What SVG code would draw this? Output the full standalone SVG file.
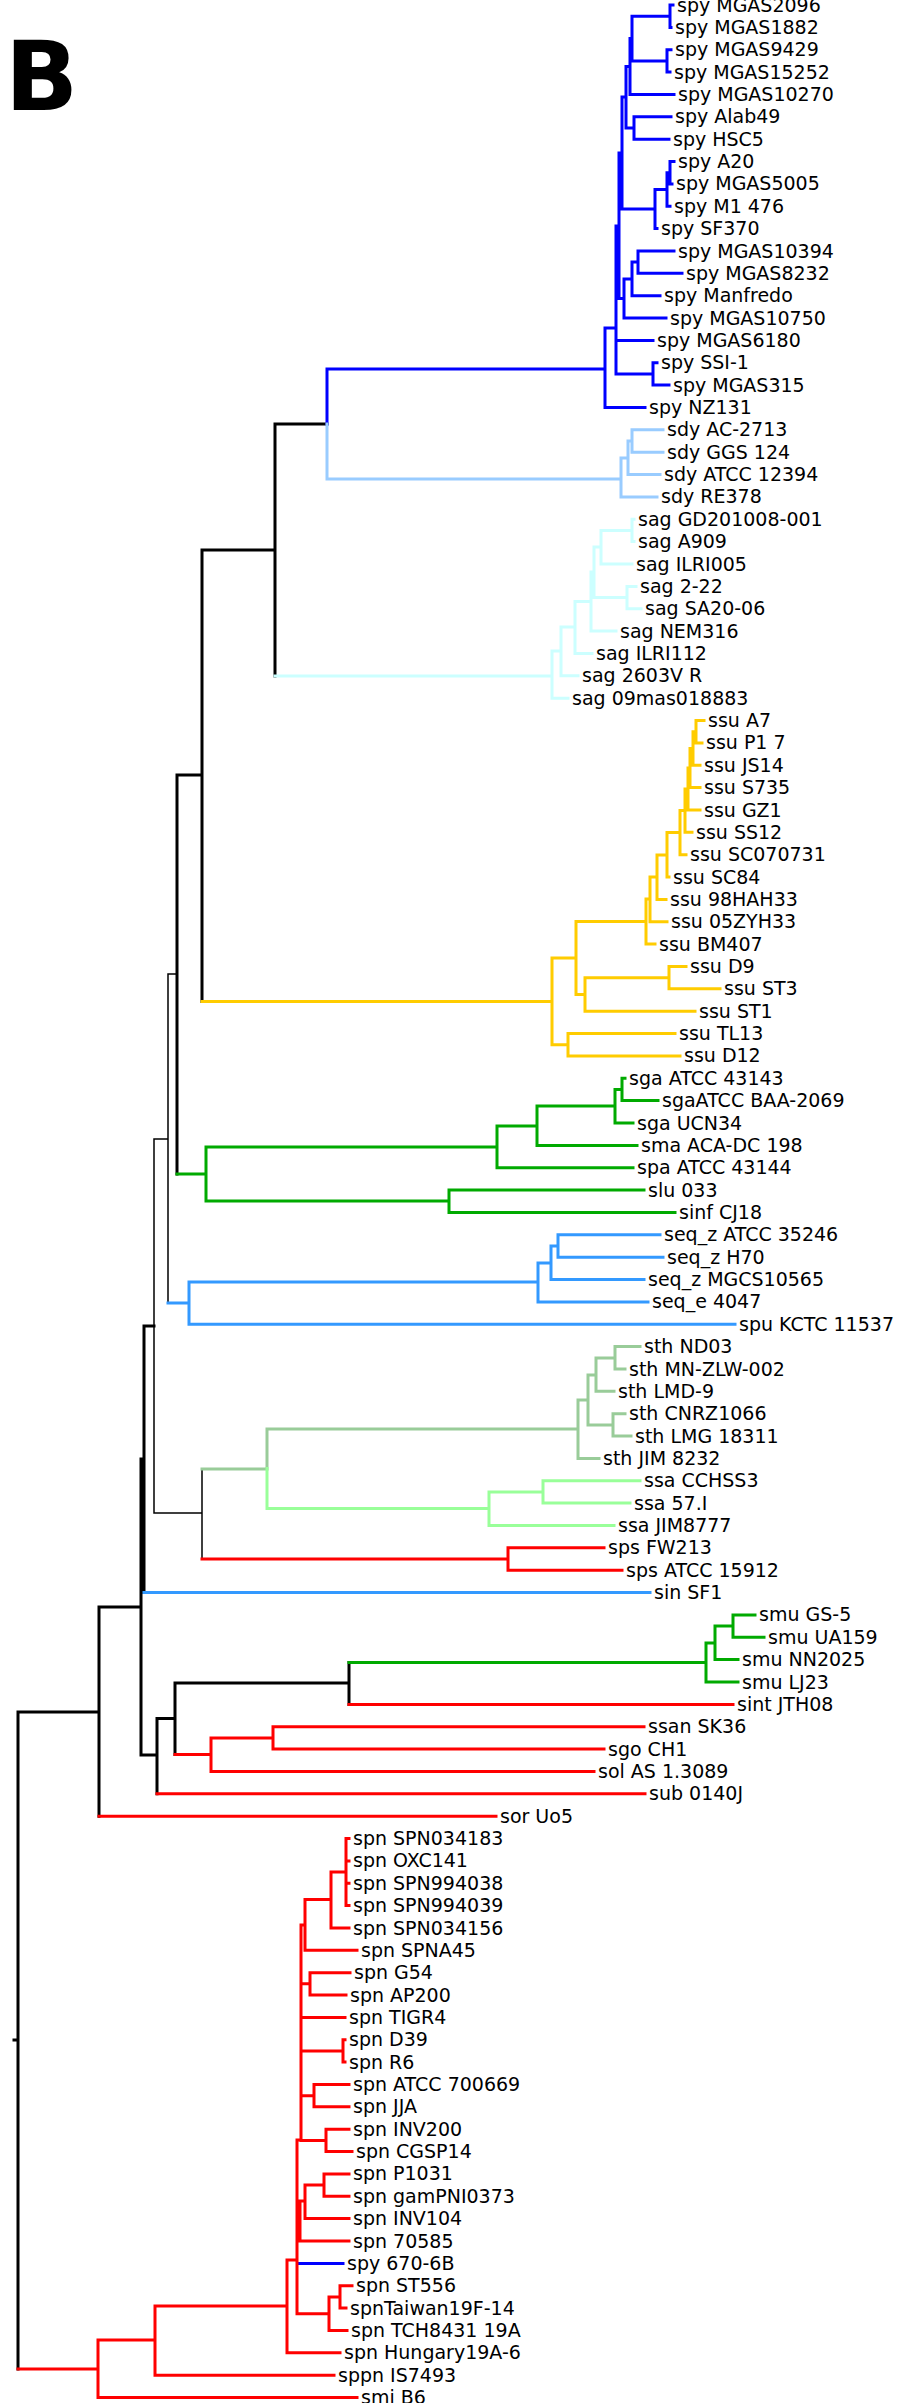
<svg xmlns="http://www.w3.org/2000/svg" width="906" height="2403" viewBox="0 0 906 2403">
<style>
.e{fill:none;stroke-width:3;stroke-linecap:square;stroke-linejoin:miter}
.k{stroke:#000}
.kt{stroke:#000;stroke-width:1.5}
.b{stroke:#0000ff}
.lb{stroke:#99ccff}
.c{stroke:#ccffff}
.y{stroke:#ffcc00}
.g{stroke:#00aa00}
.sb{stroke:#3399ff}
.pg{stroke:#99cc99}
.lg{stroke:#99ff99}
.r{stroke:#ff0000}
text{font-family:"DejaVu Sans","Liberation Sans",sans-serif;font-size:19px;fill:#000}
.big{font-family:"DejaVu Sans",sans-serif;font-weight:bold;font-size:96px}
</style>
<rect width="906" height="2403" fill="#fff"/>
<g id="title"><text class="big" x="5" y="110">B</text></g>
<g id="connectors">
<path class="e k" d="M275 424H327M275 424V676M202 550H275M202 550V1001.4M177 775H202M177 775V1174M144 1326H154M144 1326V1592.6M141 1459H144M141 1459V1755M141 1755H157M157 1718.5V1793.8M157 1718.5H175M175 1683V1754.5M175 1683H349M349 1662.5V1704.4M99 1607H141M99 1607V1816.2M18 1712H99M18 1712V2369M14 2040H18"/>
<path class="e kt" d="M168 974H177M168 974V1303M154 1139H168M154 1139V1513M154 1513H202M202 1469V1559"/>
<path class="e b" d="M670 5V27.4M670 5H673M670 27.4H671M667 49.7V72.1M667 49.7H671M667 72.1H670M632 16.2V60.9M632 16.2H670M632 60.9H667M630 38.6V94.4M630 38.6H632M630 94.4H674M634 116.8V139.2M634 116.8H671M634 139.2H669M626 66.5V128M626 66.5H630M626 128H634M670 161.5V183.9M670 161.5H674M670 183.9H672M667 172.7V206.2M667 172.7H670M667 206.2H670M655 189.5V228.6M655 189.5H667M655 228.6H657M622 97V209M622 97H626M622 209H655M638 251V273.3M638 251H674M638 273.3H682M632 262V295.7M632 262H638M632 295.7H660M624 279V318M624 279H632M624 318H666M619 153V298.5M619 153H622M619 298.5H624M653 362.8V385.1M653 362.8H657M653 385.1H669M616 226V374M616 226H619M616 340.4H653M616 374H653M605 328V407.5M605 328H616M605 407.5H645M327 369H605M327 369V424M298 2263.4H343"/>
<path class="e lb" d="M327 424V479M327 479H621M621 458V496.9M621 458H628M621 496.9H657M628 441V474.6M628 441H632M628 474.6H660M632 429.8V452.2M632 429.8H663M632 452.2H663"/>
<path class="e c" d="M275 676H552M552 651V698.2M552 651H561M552 698.2H568M561 627V675.8M561 627H575M561 675.8H578M575 601.5V653.4M575 601.5H591M575 653.4H592M591 572V631.1M591 572H594M591 631.1H616M594 547V597.6M594 547H601M594 597.6H627M627 586.4V608.7M627 586.4H636M627 608.7H641M601 530.5V564M601 530.5H632M601 564H632M632 519.3V541.6M632 519.3H634M632 541.6H634"/>
<path class="e y" d="M202 1001.4H552M552 958V1044.8M552 958H576M552 1044.8H568M568 1033.6V1055.9M568 1033.6H675M568 1055.9H680M576 921.6V994.5M576 921.6H646M576 994.5H585M585 977.7V1011.2M585 977.7H669M585 1011.2H695M669 966.5V988.8M669 966.5H686M669 988.8H720M646 899V944.1M646 899H650M646 944.1H655M650 877V921.8M650 877H657M650 921.8H667M657 855V899.4M657 855H667M657 899.4H666M667 832.6V877M667 832.6H680M667 877H669M680 810.6V854.7M680 810.6H685M680 854.7H686M685 789V832.3M685 789H688M685 832.3H692M688 768V810M688 768H690M688 810H700M690 748.5V787.6M690 748.5H693M690 787.6H700M693 731.7V765.2M693 731.7H696M693 765.2H700M696 720.5V742.9M696 720.5H704M696 742.9H702"/>
<path class="e g" d="M177 1174H206M206 1147V1201M206 1147H497M206 1201H449M497 1126V1167.7M497 1126H537M497 1167.7H633M537 1106V1145.4M537 1106H615M537 1145.4H637M615 1089.5V1123M615 1089.5H622M615 1123H633M622 1078.3V1100.6M622 1078.3H625M622 1100.6H658M449 1190.1V1212.4M449 1190.1H644M449 1212.4H675M349 1662.5H706M706 1643V1682M706 1643H715M706 1682H738M715 1626V1659.6M715 1626H733M715 1659.6H738M733 1614.9V1637.3M733 1614.9H755M733 1637.3H764"/>
<path class="e sb" d="M168 1303H189M189 1282V1324.2M189 1282H538M189 1324.2H735M538 1263V1301.9M538 1263H551M538 1301.9H648M551 1246V1279.5M551 1246H558M551 1279.5H644M558 1234.8V1257.2M558 1234.8H660M558 1257.2H663M144 1592.6H650"/>
<path class="e pg" d="M202 1469H267M267 1429V1468.5M267 1429H578M578 1400V1458.4M578 1400H588M578 1458.4H599M588 1375V1425M588 1375H596M588 1425H613M596 1358V1391.3M596 1358H615M596 1391.3H614M615 1346.6V1369M615 1346.6H640M615 1369H625M613 1413.7V1436M613 1413.7H625M613 1436H631"/>
<path class="e lg" d="M267 1468.5V1508.6M267 1508.6H489M489 1492V1525.5M489 1492H543M489 1525.5H614M543 1480.8V1503.1M543 1480.8H640M543 1503.1H630"/>
<path class="e r" d="M202 1559H508M508 1547.8V1570.2M508 1547.8H604M508 1570.2H622M349 1704.4H733M175 1754.5H211M211 1738V1771.4M211 1738H273M211 1771.4H594M273 1726.7V1749.1M273 1726.7H644M273 1749.1H604M157 1793.8H645M99 1816.2H496M18 2369H98M98 2340V2397.5M98 2340H155M98 2397.5H357M155 2306V2375.2M155 2306H287M155 2375.2H334M287 2260V2352.8M287 2260H297M287 2352.8H340M297 2140V2313.7M297 2140H301M297 2221H300M297 2313.7H329M329 2297V2330.4M329 2297H340M329 2330.4H347M340 2285.7V2308.1M340 2285.7H352M340 2308.1H346M300 2201V2241M300 2201H305M300 2241H349M305 2185V2218.6M305 2185H324M305 2218.6H349M324 2173.9V2196.3M324 2173.9H349M324 2196.3H349M301 1925V2140M301 1925H305M301 1983.8H310M301 2017.4H345M301 2051H343M301 2095.7H314M301 2140.4H326M305 1899.5V1950.3M305 1899.5H331M305 1950.3H357M331 1872V1928M331 1872H346M331 1928H349M346 1838.5V1905.6M346 1838.5H349M346 1860.9H349M346 1883.2H349M346 1905.6H349M310 1972.7V1995M310 1972.7H350M310 1995H346M343 2039.8V2062.1M343 2039.8H345M343 2062.1H345M314 2084.5V2106.8M314 2084.5H349M314 2106.8H349M326 2129.2V2151.6M326 2129.2H349M326 2151.6H352"/>
</g>
<g id="leaf-1"><text x="677" y="11.5">spy MGAS2096</text></g>
<g id="leaf-2"><text x="675" y="33.9">spy MGAS1882</text></g>
<g id="leaf-3"><text x="675" y="56.2">spy MGAS9429</text></g>
<g id="leaf-4"><text x="674" y="78.6">spy MGAS15252</text></g>
<g id="leaf-5"><text x="678" y="100.9">spy MGAS10270</text></g>
<g id="leaf-6"><text x="675" y="123.3">spy Alab49</text></g>
<g id="leaf-7"><text x="673" y="145.7">spy HSC5</text></g>
<g id="leaf-8"><text x="678" y="168">spy A20</text></g>
<g id="leaf-9"><text x="676" y="190.4">spy MGAS5005</text></g>
<g id="leaf-10"><text x="674" y="212.7">spy M1 476</text></g>
<g id="leaf-11"><text x="661" y="235.1">spy SF370</text></g>
<g id="leaf-12"><text x="678" y="257.5">spy MGAS10394</text></g>
<g id="leaf-13"><text x="686" y="279.8">spy MGAS8232</text></g>
<g id="leaf-14"><text x="664" y="302.2">spy Manfredo</text></g>
<g id="leaf-15"><text x="670" y="324.5">spy MGAS10750</text></g>
<g id="leaf-16"><text x="657" y="346.9">spy MGAS6180</text></g>
<g id="leaf-17"><text x="661" y="369.3">spy SSI-1</text></g>
<g id="leaf-18"><text x="673" y="391.6">spy MGAS315</text></g>
<g id="leaf-19"><text x="649" y="414">spy NZ131</text></g>
<g id="leaf-20"><text x="667" y="436.3">sdy AC-2713</text></g>
<g id="leaf-21"><text x="667" y="458.7">sdy GGS 124</text></g>
<g id="leaf-22"><text x="664" y="481.1">sdy ATCC 12394</text></g>
<g id="leaf-23"><text x="661" y="503.4">sdy RE378</text></g>
<g id="leaf-24"><text x="638" y="525.8">sag GD201008-001</text></g>
<g id="leaf-25"><text x="638" y="548.1">sag A909</text></g>
<g id="leaf-26"><text x="636" y="570.5">sag ILRI005</text></g>
<g id="leaf-27"><text x="640" y="592.9">sag 2-22</text></g>
<g id="leaf-28"><text x="645" y="615.2">sag SA20-06</text></g>
<g id="leaf-29"><text x="620" y="637.6">sag NEM316</text></g>
<g id="leaf-30"><text x="596" y="659.9">sag ILRI112</text></g>
<g id="leaf-31"><text x="582" y="682.3">sag 2603V R</text></g>
<g id="leaf-32"><text x="572" y="704.7">sag 09mas018883</text></g>
<g id="leaf-33"><text x="708" y="727">ssu A7</text></g>
<g id="leaf-34"><text x="706" y="749.4">ssu P1 7</text></g>
<g id="leaf-35"><text x="704" y="771.7">ssu JS14</text></g>
<g id="leaf-36"><text x="704" y="794.1">ssu S735</text></g>
<g id="leaf-37"><text x="704" y="816.5">ssu GZ1</text></g>
<g id="leaf-38"><text x="696" y="838.8">ssu SS12</text></g>
<g id="leaf-39"><text x="690" y="861.2">ssu SC070731</text></g>
<g id="leaf-40"><text x="673" y="883.5">ssu SC84</text></g>
<g id="leaf-41"><text x="670" y="905.9">ssu 98HAH33</text></g>
<g id="leaf-42"><text x="671" y="928.3">ssu 05ZYH33</text></g>
<g id="leaf-43"><text x="659" y="950.6">ssu BM407</text></g>
<g id="leaf-44"><text x="690" y="973">ssu D9</text></g>
<g id="leaf-45"><text x="724" y="995.3">ssu ST3</text></g>
<g id="leaf-46"><text x="699" y="1017.7">ssu ST1</text></g>
<g id="leaf-47"><text x="679" y="1040.1">ssu TL13</text></g>
<g id="leaf-48"><text x="684" y="1062.4">ssu D12</text></g>
<g id="leaf-49"><text x="629" y="1084.8">sga ATCC 43143</text></g>
<g id="leaf-50"><text x="662" y="1107.1">sgaATCC BAA-2069</text></g>
<g id="leaf-51"><text x="637" y="1129.5">sga UCN34</text></g>
<g id="leaf-52"><text x="641" y="1151.9">sma ACA-DC 198</text></g>
<g id="leaf-53"><text x="637" y="1174.2">spa ATCC 43144</text></g>
<g id="leaf-54"><text x="648" y="1196.6">slu 033</text></g>
<g id="leaf-55"><text x="679" y="1218.9">sinf CJ18</text></g>
<g id="leaf-56"><text x="664" y="1241.3">seq_z ATCC 35246</text></g>
<g id="leaf-57"><text x="667" y="1263.7">seq_z H70</text></g>
<g id="leaf-58"><text x="648" y="1286">seq_z MGCS10565</text></g>
<g id="leaf-59"><text x="652" y="1308.4">seq_e 4047</text></g>
<g id="leaf-60"><text x="739" y="1330.7">spu KCTC 11537</text></g>
<g id="leaf-61"><text x="644" y="1353.1">sth ND03</text></g>
<g id="leaf-62"><text x="629" y="1375.5">sth MN-ZLW-002</text></g>
<g id="leaf-63"><text x="618" y="1397.8">sth LMD-9</text></g>
<g id="leaf-64"><text x="629" y="1420.2">sth CNRZ1066</text></g>
<g id="leaf-65"><text x="635" y="1442.5">sth LMG 18311</text></g>
<g id="leaf-66"><text x="603" y="1464.9">sth JIM 8232</text></g>
<g id="leaf-67"><text x="644" y="1487.3">ssa CCHSS3</text></g>
<g id="leaf-68"><text x="634" y="1509.6">ssa 57.I</text></g>
<g id="leaf-69"><text x="618" y="1532">ssa JIM8777</text></g>
<g id="leaf-70"><text x="608" y="1554.3">sps FW213</text></g>
<g id="leaf-71"><text x="626" y="1576.7">sps ATCC 15912</text></g>
<g id="leaf-72"><text x="654" y="1599.1">sin SF1</text></g>
<g id="leaf-73"><text x="759" y="1621.4">smu GS-5</text></g>
<g id="leaf-74"><text x="768" y="1643.8">smu UA159</text></g>
<g id="leaf-75"><text x="742" y="1666.1">smu NN2025</text></g>
<g id="leaf-76"><text x="742" y="1688.5">smu LJ23</text></g>
<g id="leaf-77"><text x="737" y="1710.9">sint JTH08</text></g>
<g id="leaf-78"><text x="648" y="1733.2">ssan SK36</text></g>
<g id="leaf-79"><text x="608" y="1755.6">sgo CH1</text></g>
<g id="leaf-80"><text x="598" y="1777.9">sol AS 1.3089</text></g>
<g id="leaf-81"><text x="649" y="1800.3">sub 0140J</text></g>
<g id="leaf-82"><text x="500" y="1822.7">sor Uo5</text></g>
<g id="leaf-83"><text x="353" y="1845">spn SPN034183</text></g>
<g id="leaf-84"><text x="353" y="1867.4">spn OXC141</text></g>
<g id="leaf-85"><text x="353" y="1889.7">spn SPN994038</text></g>
<g id="leaf-86"><text x="353" y="1912.1">spn SPN994039</text></g>
<g id="leaf-87"><text x="353" y="1934.5">spn SPN034156</text></g>
<g id="leaf-88"><text x="361" y="1956.8">spn SPNA45</text></g>
<g id="leaf-89"><text x="354" y="1979.2">spn G54</text></g>
<g id="leaf-90"><text x="350" y="2001.5">spn AP200</text></g>
<g id="leaf-91"><text x="349" y="2023.9">spn TIGR4</text></g>
<g id="leaf-92"><text x="349" y="2046.3">spn D39</text></g>
<g id="leaf-93"><text x="349" y="2068.6">spn R6</text></g>
<g id="leaf-94"><text x="353" y="2091">spn ATCC 700669</text></g>
<g id="leaf-95"><text x="353" y="2113.3">spn JJA</text></g>
<g id="leaf-96"><text x="353" y="2135.7">spn INV200</text></g>
<g id="leaf-97"><text x="356" y="2158.1">spn CGSP14</text></g>
<g id="leaf-98"><text x="353" y="2180.4">spn P1031</text></g>
<g id="leaf-99"><text x="353" y="2202.8">spn gamPNI0373</text></g>
<g id="leaf-100"><text x="353" y="2225.1">spn INV104</text></g>
<g id="leaf-101"><text x="353" y="2247.5">spn 70585</text></g>
<g id="leaf-102"><text x="347" y="2269.9">spy 670-6B</text></g>
<g id="leaf-103"><text x="356" y="2292.2">spn ST556</text></g>
<g id="leaf-104"><text x="350" y="2314.6">spnTaiwan19F-14</text></g>
<g id="leaf-105"><text x="351" y="2336.9">spn TCH8431 19A</text></g>
<g id="leaf-106"><text x="344" y="2359.3">spn Hungary19A-6</text></g>
<g id="leaf-107"><text x="338" y="2381.7">sppn IS7493</text></g>
<g id="leaf-108"><text x="361" y="2404">smi B6</text></g>
</svg>
